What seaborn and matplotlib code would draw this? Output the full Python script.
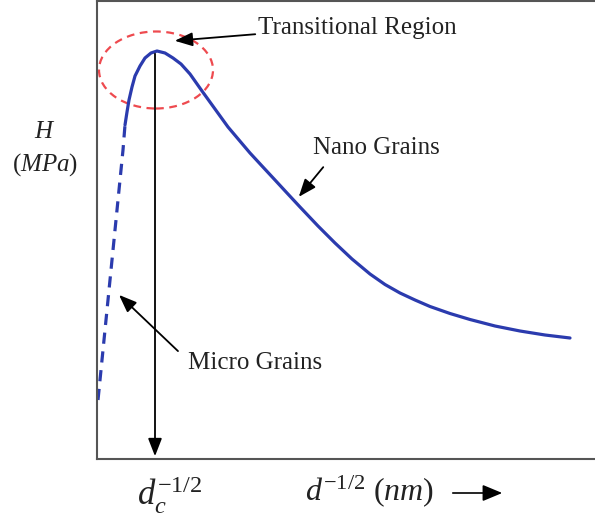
import matplotlib
matplotlib.use("Agg")
import matplotlib.pyplot as plt
import seaborn as sns
from matplotlib.patches import Ellipse, FancyArrowPatch

sns.set_theme(style="white")
plt.rcParams['font.family'] = ['Liberation Serif', 'DejaVu Serif']
plt.rcParams['mathtext.fontset'] = 'custom'
plt.rcParams['mathtext.rm'] = 'Liberation Serif'
plt.rcParams['mathtext.it'] = 'Liberation Serif:italic'

# Data (arbitrary units)
micro_x = [1, 6, 11, 16, 21, 26, 28]
micro_y = [59, 109, 159, 209, 259, 309, 334]
nano_x = [28, 30, 32, 35, 38, 43, 48, 54, 60, 68, 76, 84, 93, 105, 118, 131,
          142, 153, 165, 178, 190, 203, 221, 238, 255, 273, 288, 303, 318, 333,
          353, 373, 398, 423, 448, 473]
nano_y = [334, 347, 359, 372, 383, 393, 401, 406, 408, 406, 401, 395, 385, 368,
          350, 332, 319, 306, 293, 279, 266, 252, 233, 216, 200, 185, 174.5, 166,
          159, 152.5, 145.5, 139.5, 133, 128, 124, 121]

W, H = 595, 517
fig = plt.figure(figsize=(W/100, H/100), dpi=100)
ax = fig.add_axes([97/W, 1 - 459/H, (595-97)/W, (459-1)/H])
ax.set_xlim(0, 498)
ax.set_ylim(0, 458)
ax.set_xticks([]); ax.set_yticks([])
for s in ['left', 'bottom', 'top']:
    ax.spines[s].set_color('#555555')
    ax.spines[s].set_linewidth(1.5)
ax.spines['right'].set_visible(False)

blue = '#2B3BAE'
sns.lineplot(x=micro_x, y=micro_y, ax=ax, color=blue, lw=2.3, sort=False,
             estimator=None)
ax.lines[-1].set_dashes((3.5, 2.4))
sns.lineplot(x=nano_x, y=nano_y, ax=ax, color=blue, lw=2.3, sort=False,
             estimator=None)
ax.lines[-1].set_solid_joinstyle('round')

ax.add_patch(Ellipse((59, 389), 114, 77, fill=False, edgecolor='#EE4A4F',
                     lw=1.6, ls=(0, (3.5, 2.5))))

ap = dict(arrowstyle='-|>,head_length=0.9,head_width=0.35', color='black', lw=1.3)
ax.annotate('', xy=(58, 0), xytext=(58, 408), arrowprops=ap)
ax.annotate('', xy=(75, 418), xytext=(161, 425), arrowprops=ap)
ax.annotate('', xy=(200, 260), xytext=(228, 294), arrowprops=ap)
ax.annotate('', xy=(20, 166), xytext=(83, 106), arrowprops=ap)

tc = '#222222'
ax.text(161, 431, 'Transitional Region', fontsize=18, va='center', ha='left', color=tc)
ax.text(216, 311, 'Nano Grains', fontsize=18, va='center', ha='left', color=tc)
ax.text(91, 96, 'Micro Grains', fontsize=18, va='center', ha='left', color=tc)

def ft(x, y, s, **kw):
    fig.text(x/W, 1 - y/H, s, **kw)

ft(45, 132, '$H$', fontsize=18, ha='center', va='center', color=tc)
ft(45, 165, '$(MPa)$', fontsize=18, ha='center', va='center', color=tc)
ft(137, 505, r'$d_c^{-1/2}$', fontsize=25, ha='left', va='baseline', color=tc)
ft(305, 500, r'$d^{-1/2}\ (nm)$', fontsize=23, ha='left', va='baseline', color=tc)
fig.add_artist(FancyArrowPatch(
    (450/W, 1 - 493/H), (505/W, 1 - 493/H), transform=fig.transFigure,
    arrowstyle='-|>,head_length=0.6,head_width=0.25', color='black', lw=1.2,
    mutation_scale=20))

fig.savefig('out.png', dpi=100)
